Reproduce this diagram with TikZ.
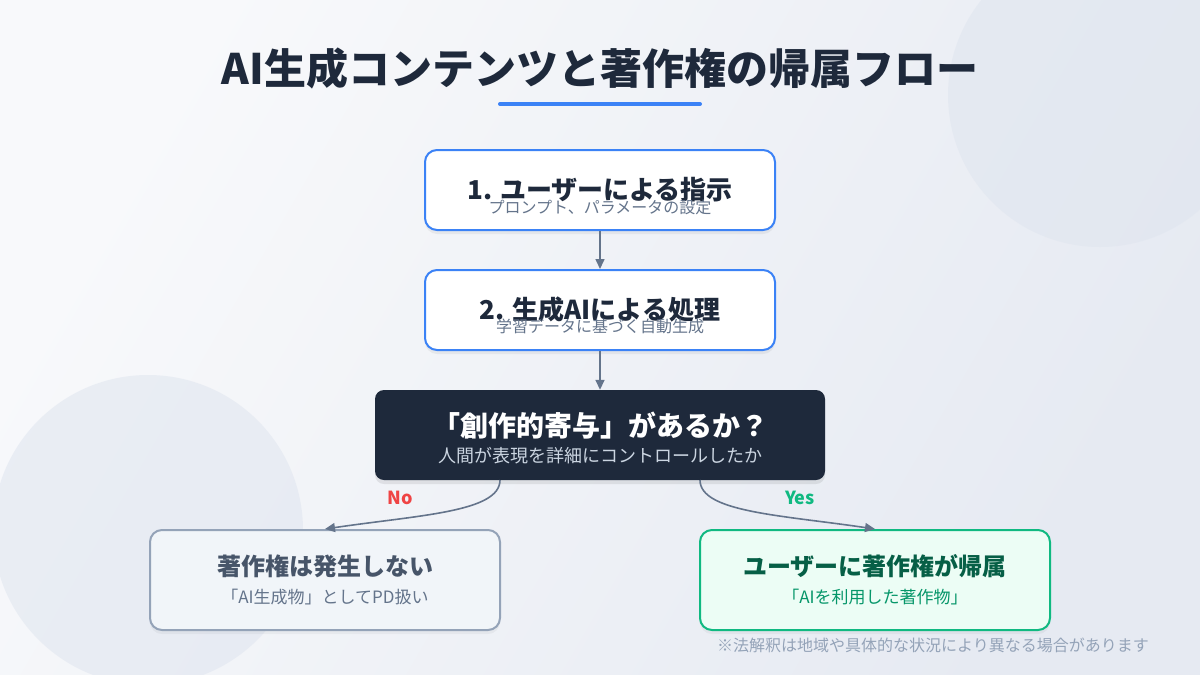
\documentclass[tikz,border=0pt]{standalone}
\usepackage{fontspec}
\setmainfont{Noto Sans CJK JP}
\usetikzlibrary{arrows.meta}
\definecolor{navy}{HTML}{1E293B}
\definecolor{accent}{HTML}{3B82F6}
\definecolor{slate}{HTML}{64748B}
\definecolor{lightslate}{HTML}{CBD5E1}
\definecolor{nofill}{HTML}{F1F5F9}
\definecolor{noborder}{HTML}{94A3B8}
\definecolor{notext}{HTML}{475569}
\definecolor{yesfill}{HTML}{ECFDF5}
\definecolor{yesborder}{HTML}{10B981}
\definecolor{yestext}{HTML}{065F46}
\definecolor{yessub}{HTML}{059669}
\definecolor{nored}{HTML}{EF4444}
\definecolor{bgA}{HTML}{F8F9FB}
\definecolor{bgB}{HTML}{E6EAF2}
\definecolor{deco}{HTML}{DFE5EF}
\tikzset{
  stepbox/.style={draw=accent, line width=2pt, fill=white, rounded corners=12pt, minimum width=350pt, minimum height=80pt, inner sep=0pt},
  decisionbox/.style={fill=navy, rounded corners=9pt, minimum width=450pt, minimum height=90pt, inner sep=0pt},
  nobox/.style={draw=noborder, line width=2pt, fill=nofill, rounded corners=12pt, minimum width=350pt, minimum height=100pt, inner sep=0pt},
  yesbox/.style={draw=yesborder, line width=2pt, fill=yesfill, rounded corners=12pt, minimum width=350pt, minimum height=100pt, inner sep=0pt},
  steptitle/.style={font=\fontsize{26pt}{30pt}\selectfont\bfseries, text=navy, inner sep=0pt},
  stepsub/.style={font=\fontsize{16pt}{19pt}\selectfont, text=slate, inner sep=0pt},
  resulttitle/.style={font=\fontsize{24pt}{28pt}\selectfont\bfseries, inner sep=0pt},
  resultsub/.style={font=\fontsize{17pt}{20pt}\selectfont, inner sep=0pt},
  flowarrow/.style={draw=slate, line width=1.6pt, -{Triangle[length=10pt,width=9pt]}},
  branchlabel/.style={font=\fontsize{18pt}{21pt}\selectfont\bfseries, inner sep=0pt}
}
\begin{document}
\begin{tikzpicture}[x=1pt,y=-1pt]
\useasboundingbox (0,0) rectangle (1200,675);
% background
\shade[shading=axis, left color=bgA, right color=bgB, shading angle=60] (0,0) rectangle (1200,675);
\begin{scope}
\clip (0,0) rectangle (1200,675);
\fill[deco, opacity=0.55] (1100,95) circle (152);
\fill[deco, opacity=0.55] (148,530) circle (155);
\end{scope}
% title
\node[font=\fontsize{42pt}{48pt}\selectfont\bfseries, text=navy, inner sep=0pt] (title) at (600,68) {AI生成コンテンツと著作権の帰属フロー};
\draw[accent, line width=4pt, line cap=round] (500,104) -- (700,104);
% shadows
\fill[black, opacity=0.05, rounded corners=12pt] (425,153) rectangle (775,234);
\fill[black, opacity=0.05, rounded corners=12pt] (425,273) rectangle (775,354);
\fill[black, opacity=0.08, rounded corners=9pt] (375,394) rectangle (825,484);
\fill[black, opacity=0.04, rounded corners=12pt] (150,533) rectangle (500,634);
\fill[black, opacity=0.04, rounded corners=12pt] (700,533) rectangle (1050,634);
% step 1
\node[stepbox] (b1) at (600,190) {};
\node[steptitle] (t1) at (600,190) {1. ユーザーによる指示};
\node[stepsub] (s1) at (600,207) {プロンプト、パラメータの設定};
% step 2
\node[stepbox] (b2) at (600,310) {};
\node[steptitle] (t2) at (600,310) {2. 生成AIによる処理};
\node[stepsub] (s2) at (600,326) {学習データに基づく自動生成};
% decision
\node[decisionbox] (d) at (600,435) {};
\node[font=\fontsize{28pt}{32pt}\selectfont\bfseries, text=white, inner sep=0pt] (dt) at (600,426) {「創作的寄与」があるか？};
\node[font=\fontsize{18pt}{21pt}\selectfont, text=lightslate, inner sep=0pt] (ds) at (600,456) {人間が表現を詳細にコントロールしたか};
% outcomes
\node[nobox] (n) at (325,580) {};
\node[resulttitle, text=notext] (nt) at (325,566) {著作権は発生しない};
\node[resultsub, text=slate] (ns) at (325,597) {「AI生成物」としてPD扱い};
\node[yesbox] (y) at (875,580) {};
\node[resulttitle, text=yestext] (yt) at (875,566) {ユーザーに著作権が帰属};
\node[resultsub, text=yessub] (ys) at (875,597) {「AIを利用した著作物」};
% connectors
\draw[flowarrow] (b1.south) -- (b2.north);
\draw[flowarrow] (b2.south) -- (d.north);
\coordinate (dl) at (500,480);
\coordinate (dr) at (700,480);
\draw[flowarrow] (dl) .. controls (500,512) and (420,515) .. (n.north);
\draw[flowarrow] (dr) .. controls (700,512) and (780,515) .. (y.north);
\node[branchlabel, text=nored] (nol) at (400,498) {No};
\node[branchlabel, text=yesborder] (yesl) at (800,498) {Yes};
% footnote
\node[font=\fontsize{16pt}{19pt}\selectfont, text=noborder, inner sep=0pt, anchor=east] (fn) at (1149,645) {※法解釈は地域や具体的な状況により異なる場合があります};
\end{tikzpicture}
\end{document}
